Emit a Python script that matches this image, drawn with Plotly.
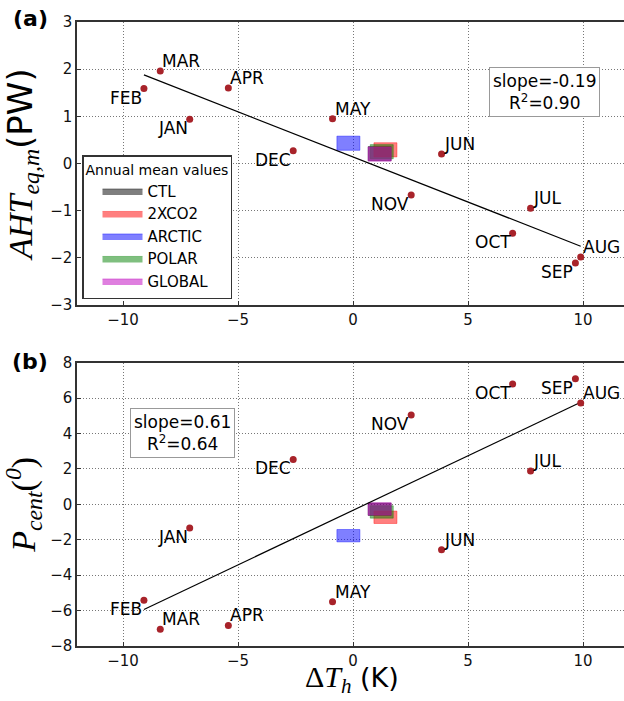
import numpy as np
import plotly.graph_objects as go

# ---------------- data ----------------
months = ["JAN", "FEB", "MAR", "APR", "MAY", "JUN", "JUL", "AUG", "SEP", "OCT", "NOV", "DEC"]
dT = [-7.10, -9.09, -8.38, -5.42, -0.89, 3.85, 7.72, 9.90, 9.67, 6.94, 2.53, -2.60]
aht = [0.94, 1.59, 1.96, 1.60, 0.95, 0.20, -0.95, -1.98, -2.11, -1.48, -0.67, 0.27]
pcent = [-1.33, -5.42, -7.06, -6.84, -5.50, -2.57, 1.89, 5.72, 7.09, 6.79, 5.04, 2.54]

exps = ["CTL", "2XCO2", "ARCTIC", "POLAR", "GLOBAL"]
exp_dT = [1.16, 1.41, -0.20, 1.25, 1.16]
exp_aht = [0.21, 0.29, 0.43, 0.25, 0.20]
exp_pcent = [-0.28, -0.73, -1.77, -0.43, -0.26]

stats_a = "slope=-0.19<br>R<sup>2</sup>=0.90"
stats_b = "slope=0.61<br>R<sup>2</sup>=0.64"

# ---------------- style ----------------
FONT = "DejaVu Sans"
exp_colors = ["rgba(0,0,0,0.5)", "rgba(255,0,0,0.5)", "rgba(0,0,255,0.5)",
              "rgba(0,128,0,0.5)", "rgba(191,0,191,0.5)"]
dot_color = "#a8232a"
# label placement: text up-right of point (left/bottom) or down-left (right/top)
upright = {"MAR", "APR", "MAY", "JUN", "JUL", "AUG"}
half_w = 0.5
half_h = {"y": 0.15, "y2": 0.35}

W, H = 624, 701
left_px, right_px = 77, 624
top_a, bot_a = 22, 305
top_b, bot_b = 362.7, 646

fig = go.Figure()

for yref, xax, yax, vals, evals, show in [
    ("y", "x", "y", aht, exp_aht, True),
    ("y2", "x2", "y2", pcent, exp_pcent, False),
]:
    # experiment rectangles
    for name, cx, cy, col in zip(exps, exp_dT, evals, exp_colors):
        hh = half_h[yref]
        fig.add_trace(go.Scatter(
            x=[cx - half_w, cx + half_w, cx + half_w, cx - half_w, cx - half_w],
            y=[cy - hh, cy - hh, cy + hh, cy + hh, cy - hh],
            mode="lines", fill="toself", fillcolor=col,
            line=dict(color=col, width=0.8),
            name=name, showlegend=show,
            xaxis=xax, yaxis=yax, hoverinfo="skip"))
    # regression line
    p = np.polyfit(dT, vals, 1)
    xl = np.array([min(dT), max(dT)])
    fig.add_trace(go.Scatter(x=xl, y=np.polyval(p, xl), mode="lines",
                             line=dict(color="black", width=1.2),
                             showlegend=False, xaxis=xax, yaxis=yax))
    # monthly points
    fig.add_trace(go.Scatter(x=dT, y=vals, mode="markers",
                             marker=dict(color=dot_color, size=7),
                             showlegend=False, xaxis=xax, yaxis=yax))
    for m, xv, yv in zip(months, dT, vals):
        if m in upright:
            xa, ya, ys = "left", "bottom", -2
        else:
            xa, ya, ys = "right", "top", 3
        fig.add_annotation(x=xv, y=yv, xref=xax, yref=yax, text=m,
                           showarrow=False, xanchor=xa, yanchor=ya, yshift=ys,
                           font=dict(family=FONT, size=17, color="black"))

# stats boxes
for txt, cx, cy in [(stats_a, 544, 91.5), (stats_b, 182.5, 432.5)]:
    fig.add_annotation(x=cx / W, y=1 - cy / H, xref="paper", yref="paper",
                       text=txt, showarrow=False, align="center",
                       xanchor="center", yanchor="middle",
                       font=dict(family=FONT, size=17, color="black"),
                       bgcolor="white", bordercolor="#999", borderwidth=1, borderpad=3)

# panel labels
for txt, cx, cy in [("<b>(a)</b>", 30, 19), ("<b>(b)</b>", 30, 361)]:
    fig.add_annotation(x=cx / W, y=1 - cy / H, xref="paper", yref="paper",
                       text=txt, showarrow=False, xanchor="center", yanchor="middle",
                       font=dict(family=FONT, size=22, color="black"))

MATH = "font-family:Liberation Serif"
# x-axis title of the lower panel
fig.add_annotation(x=352 / W, y=1 - 700 / H, xref="paper", yref="paper",
                   text=f"<span style='{MATH};font-size:30px'>Δ<i>T</i><sub><i>h</i></sub></span> (K)",
                   showarrow=False, xanchor="center", yanchor="bottom",
                   font=dict(family=FONT, size=27, color="black"))

axis_common = dict(
    showgrid=True, gridcolor="#777", griddash="1px,2px", gridwidth=1,
    zeroline=False, showline=True, linecolor="#333", linewidth=1.5,
    ticks="inside", ticklen=4, tickcolor="#333", automargin=False,
    tickfont=dict(family=FONT, size=15, color="#111"),
)
xdom = [left_px / W, right_px / W]
xrange = [-12, -12 + (right_px - left_px) / 23.0]

fig.update_layout(
    width=W, height=H, margin=dict(l=0, r=0, t=0, b=0, autoexpand=False),
    paper_bgcolor="white", plot_bgcolor="white",
    font=dict(family=FONT, color="black"),
    xaxis=dict(axis_common, domain=xdom, range=xrange, anchor="y",
               tickvals=[-10, -5, 0, 5, 10], mirror=True),
    yaxis=dict(axis_common, domain=[1 - bot_a / H, 1 - top_a / H], range=[-3, 3],
               anchor="x", dtick=1,
               title=dict(text=f"<span style='{MATH}'><i>AHT</i><sub><i>eq,m</i></sub></span>(PW)",
                          font=dict(family=FONT, size=34, color="black"))),
    xaxis2=dict(axis_common, domain=xdom, range=xrange, anchor="y2",
                tickvals=[-10, -5, 0, 5, 10], mirror=True),
    yaxis2=dict(axis_common, domain=[1 - bot_b / H, 1 - top_b / H], range=[-8, 8],
                anchor="x2", dtick=2,
                title=dict(text=f"<span style='{MATH}'><i>P</i><sub><i>cent</i></sub>(<sup><i>0</i></sup>)</span>",
                           font=dict(family=FONT, size=34, color="black"))),
    legend=dict(x=82 / W, y=1 - 155 / H, xanchor="left", yanchor="top",
                bgcolor="white", bordercolor="#333", borderwidth=1.5,
                title=dict(text="Annual mean values", font=dict(family=FONT, size=14)),
                font=dict(family=FONT, size=15, color="black"),
                itemwidth=40, indentation=14, tracegroupgap=0),
)

fig.write_html("out.html")
